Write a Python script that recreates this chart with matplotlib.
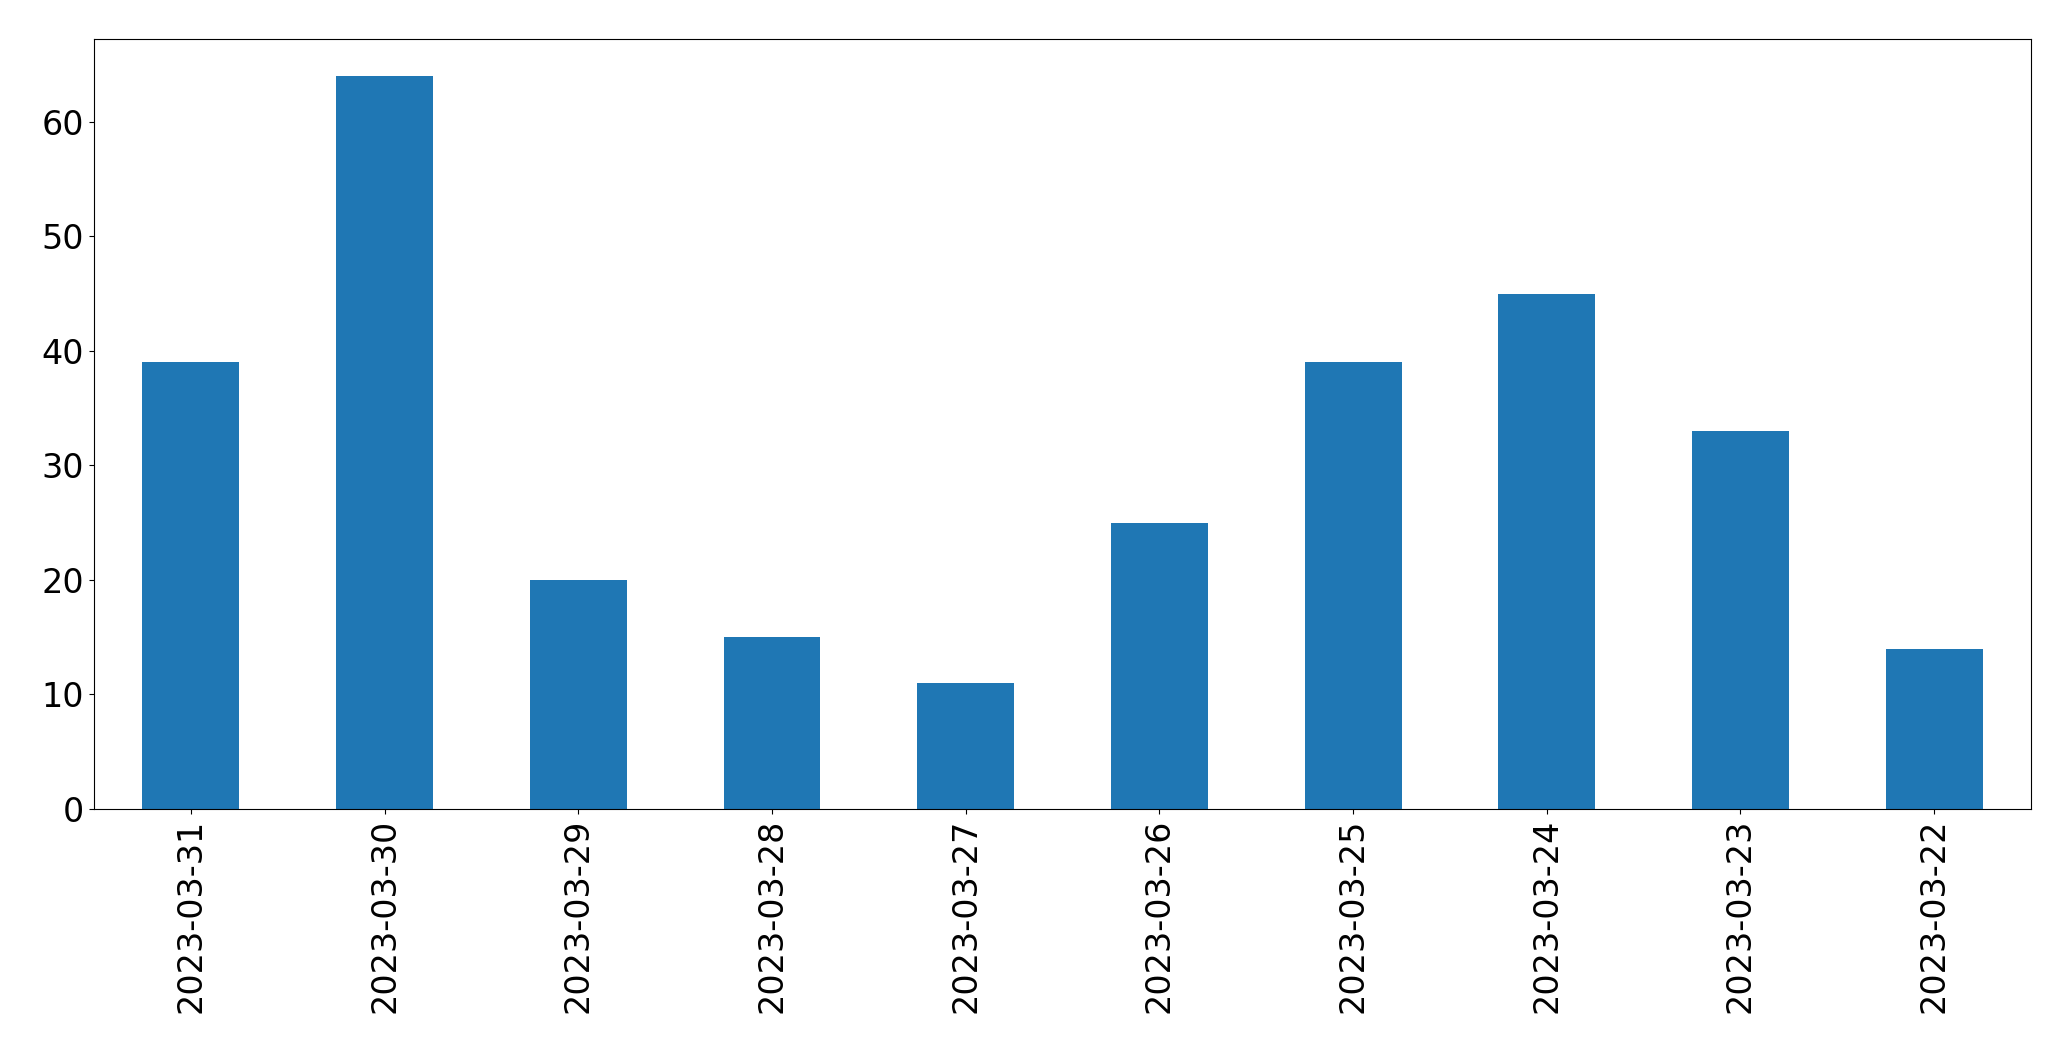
import matplotlib
matplotlib.use("Agg")
import matplotlib.pyplot as plt

dates = ["2023-03-31", "2023-03-30", "2023-03-29", "2023-03-28", "2023-03-27",
         "2023-03-26", "2023-03-25", "2023-03-24", "2023-03-23", "2023-03-22"]
counts = [39, 64, 20, 15, 11, 25, 39, 45, 33, 14]

fig = plt.figure(figsize=(20.71, 10.61), dpi=100)
ax = fig.add_axes([0.0454, 0.2375, 0.9353, 0.7255])
x = range(len(dates))
ax.bar(x, counts, width=0.5, color="#1f77b4")
ax.set_xlim(-0.5, len(dates) - 0.5)
ax.set_xticks(list(x))
ax.set_xticklabels(dates, rotation=90)
ax.tick_params(axis="both", labelsize=24)
fig.savefig("out.png", dpi=100)
